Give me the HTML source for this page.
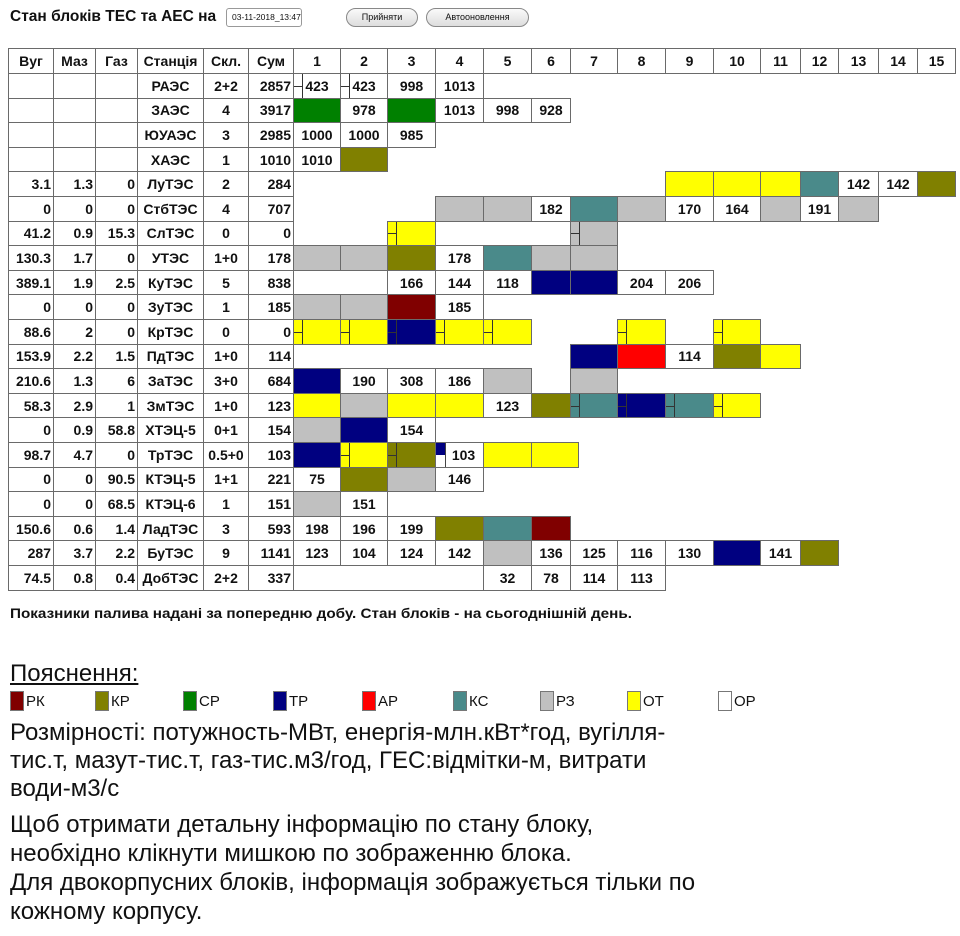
<!DOCTYPE html>
<html><head><meta charset="utf-8">
<style>
body{margin:0;width:960px;height:936px;background:#fff;position:relative;overflow:hidden;font-family:"Liberation Sans",Arial,sans-serif;color:#111}
.c{position:absolute;box-sizing:border-box;border:1px solid #6a6a6a;height:25.6px;display:flex;align-items:center;justify-content:center;font-weight:bold;font-size:14px;background:#fff}
.rt{justify-content:flex-end;padding-right:2px}
.l1{left:8px;width:46px}.l2{left:53px;width:43px}.l3{left:95px;width:43px}.l4{left:137px;width:67px}.l5{left:203px;width:46px}.l6{left:248px;width:46px}
.u1{left:293px;width:48px}.u2{left:340px;width:48px}.u3{left:387px;width:49px}.u4{left:435px;width:49px}.u5{left:483px;width:49px}.u6{left:531px;width:40px}.u7{left:570px;width:48px}.u8{left:617px;width:49px}.u9{left:665px;width:49px}.u10{left:713px;width:48px}.u11{left:760px;width:41px}.u12{left:800px;width:39px}.u13{left:838px;width:41px}.u14{left:878px;width:40px}.u15{left:917px;width:39px}
.h{top:48px;height:26px}
.r0{top:73px}.r1{top:97.6px}.r2{top:122.2px}.r3{top:146.8px}.r4{top:171.4px}.r5{top:196px}.r6{top:220.6px}.r7{top:245.2px}.r8{top:269.8px}.r9{top:294.4px}.r10{top:319px}.r11{top:343.6px}.r12{top:368.2px}.r13{top:392.8px}.r14{top:417.4px}.r15{top:442px}.r16{top:466.6px}.r17{top:491.2px}.r18{top:515.8px}.r19{top:540.4px}.r20{top:565px}
.RK{background:#800000}.KR{background:#808000}.SR{background:#008000}.TR{background:#000080}.AR{background:#ff0000}.KS{background:#4a8a8a}.RZ{background:#c0c0c0}.OT{background:#ffff00}
.s::before{content:"";position:absolute;left:8px;top:0;bottom:0;border-left:1.5px solid #333}
.s::after{content:"";position:absolute;left:0;width:8px;top:50%;border-top:1.5px solid #333}
.lg{position:absolute;top:690px;height:22px;font-size:15px;display:flex;align-items:center}
.lg b{display:inline-block;width:14px;height:20px;box-sizing:border-box;border:1px solid #777;margin-right:2px}
.p{position:absolute;left:10px;font-size:24px;white-space:nowrap;line-height:28px}
</style></head><body>
<div style="position:absolute;left:10px;top:8px;font-weight:bold;font-size:15.5px">Стан блоків ТЕС та АЕС на</div>
<div style="position:absolute;left:226px;top:8px;width:76px;height:19px;box-sizing:border-box;border:1px solid #999;border-radius:3px;font-size:8.5px;line-height:17px;padding-left:5px">03-11-2018_13:47</div>
<div style="position:absolute;left:346px;top:8px;width:72px;height:19px;box-sizing:border-box;border:1px solid #888;border-radius:10px;background:linear-gradient(#fafafa,#ddd);font-size:9px;text-align:center;line-height:17px">Прийняти</div>
<div style="position:absolute;left:426px;top:8px;width:103px;height:19px;box-sizing:border-box;border:1px solid #888;border-radius:10px;background:linear-gradient(#fafafa,#ddd);font-size:9px;text-align:center;line-height:17px">Автооновлення</div>

<div class="c h l1">Вуг</div><div class="c h l2">Маз</div><div class="c h l3">Газ</div><div class="c h l4">Станція</div><div class="c h l5">Скл.</div><div class="c h l6">Сум</div>
<div class="c h u1">1</div><div class="c h u2">2</div><div class="c h u3">3</div><div class="c h u4">4</div><div class="c h u5">5</div><div class="c h u6">6</div><div class="c h u7">7</div><div class="c h u8">8</div><div class="c h u9">9</div><div class="c h u10">10</div><div class="c h u11">11</div><div class="c h u12">12</div><div class="c h u13">13</div><div class="c h u14">14</div><div class="c h u15">15</div>

<div class="c r0 l1"></div><div class="c r0 l2"></div><div class="c r0 l3"></div><div class="c r0 l4">РАЭС</div><div class="c r0 l5">2+2</div><div class="c r0 l6 rt">2857</div>
<div class="c r0 u1 s">423</div><div class="c r0 u2 s">423</div><div class="c r0 u3">998</div><div class="c r0 u4">1013</div>
<div class="c r1 l1"></div><div class="c r1 l2"></div><div class="c r1 l3"></div><div class="c r1 l4">ЗАЭС</div><div class="c r1 l5">4</div><div class="c r1 l6 rt">3917</div>
<div class="c r1 u1 SR"></div><div class="c r1 u2">978</div><div class="c r1 u3 SR"></div><div class="c r1 u4">1013</div><div class="c r1 u5">998</div><div class="c r1 u6">928</div>
<div class="c r2 l1"></div><div class="c r2 l2"></div><div class="c r2 l3"></div><div class="c r2 l4">ЮУАЭС</div><div class="c r2 l5">3</div><div class="c r2 l6 rt">2985</div>
<div class="c r2 u1">1000</div><div class="c r2 u2">1000</div><div class="c r2 u3">985</div>
<div class="c r3 l1"></div><div class="c r3 l2"></div><div class="c r3 l3"></div><div class="c r3 l4">ХАЭС</div><div class="c r3 l5">1</div><div class="c r3 l6 rt">1010</div>
<div class="c r3 u1">1010</div><div class="c r3 u2 KR"></div>
<div class="c r4 l1 rt">3.1</div><div class="c r4 l2 rt">1.3</div><div class="c r4 l3 rt">0</div><div class="c r4 l4">ЛуТЭС</div><div class="c r4 l5">2</div><div class="c r4 l6 rt">284</div>
<div class="c r4 u9 OT"></div><div class="c r4 u10 OT"></div><div class="c r4 u11 OT"></div><div class="c r4 u12 KS"></div><div class="c r4 u13">142</div><div class="c r4 u14">142</div><div class="c r4 u15 KR"></div>
<div class="c r5 l1 rt">0</div><div class="c r5 l2 rt">0</div><div class="c r5 l3 rt">0</div><div class="c r5 l4">СтбТЭС</div><div class="c r5 l5">4</div><div class="c r5 l6 rt">707</div>
<div class="c r5 u4 RZ"></div><div class="c r5 u5 RZ"></div><div class="c r5 u6">182</div><div class="c r5 u7 KS"></div><div class="c r5 u8 RZ"></div><div class="c r5 u9">170</div><div class="c r5 u10">164</div><div class="c r5 u11 RZ"></div><div class="c r5 u12">191</div><div class="c r5 u13 RZ"></div>
<div class="c r6 l1 rt">41.2</div><div class="c r6 l2 rt">0.9</div><div class="c r6 l3 rt">15.3</div><div class="c r6 l4">СлТЭС</div><div class="c r6 l5">0</div><div class="c r6 l6 rt">0</div>
<div class="c r6 u3 OT s"></div><div class="c r6 u7 RZ s"></div>
<div class="c r7 l1 rt">130.3</div><div class="c r7 l2 rt">1.7</div><div class="c r7 l3 rt">0</div><div class="c r7 l4">УТЭС</div><div class="c r7 l5">1+0</div><div class="c r7 l6 rt">178</div>
<div class="c r7 u1 RZ"></div><div class="c r7 u2 RZ"></div><div class="c r7 u3 KR"></div><div class="c r7 u4">178</div><div class="c r7 u5 KS"></div><div class="c r7 u6 RZ"></div><div class="c r7 u7 RZ"></div>
<div class="c r8 l1 rt">389.1</div><div class="c r8 l2 rt">1.9</div><div class="c r8 l3 rt">2.5</div><div class="c r8 l4">КуТЭС</div><div class="c r8 l5">5</div><div class="c r8 l6 rt">838</div>
<div class="c r8" style="left:293px;width:95px"></div><div class="c r8 u3">166</div><div class="c r8 u4">144</div><div class="c r8 u5">118</div><div class="c r8 u6 TR"></div><div class="c r8 u7 TR"></div><div class="c r8 u8">204</div><div class="c r8 u9">206</div>
<div class="c r9 l1 rt">0</div><div class="c r9 l2 rt">0</div><div class="c r9 l3 rt">0</div><div class="c r9 l4">ЗуТЭС</div><div class="c r9 l5">1</div><div class="c r9 l6 rt">185</div>
<div class="c r9 u1 RZ"></div><div class="c r9 u2 RZ"></div><div class="c r9 u3 RK"></div><div class="c r9 u4">185</div>
<div class="c r10 l1 rt">88.6</div><div class="c r10 l2 rt">2</div><div class="c r10 l3 rt">0</div><div class="c r10 l4">КрТЭС</div><div class="c r10 l5">0</div><div class="c r10 l6 rt">0</div>
<div class="c r10 u1 OT s"></div><div class="c r10 u2 OT s"></div><div class="c r10 u3 TR s"></div><div class="c r10 u4 OT s"></div><div class="c r10 u5 OT s"></div><div class="c r10 u8 OT s"></div><div class="c r10 u10 OT s"></div>
<div class="c r11 l1 rt">153.9</div><div class="c r11 l2 rt">2.2</div><div class="c r11 l3 rt">1.5</div><div class="c r11 l4">ПдТЭС</div><div class="c r11 l5">1+0</div><div class="c r11 l6 rt">114</div>
<div class="c r11 u7 TR"></div><div class="c r11 u8 AR"></div><div class="c r11 u9">114</div><div class="c r11 u10 KR"></div><div class="c r11 u11 OT"></div>
<div class="c r12 l1 rt">210.6</div><div class="c r12 l2 rt">1.3</div><div class="c r12 l3 rt">6</div><div class="c r12 l4">ЗаТЭС</div><div class="c r12 l5">3+0</div><div class="c r12 l6 rt">684</div>
<div class="c r12 u1 TR"></div><div class="c r12 u2">190</div><div class="c r12 u3">308</div><div class="c r12 u4">186</div><div class="c r12 u5 RZ"></div><div class="c r12 u7 RZ"></div>
<div class="c r13 l1 rt">58.3</div><div class="c r13 l2 rt">2.9</div><div class="c r13 l3 rt">1</div><div class="c r13 l4">ЗмТЭС</div><div class="c r13 l5">1+0</div><div class="c r13 l6 rt">123</div>
<div class="c r13 u1 OT"></div><div class="c r13 u2 RZ"></div><div class="c r13 u3 OT"></div><div class="c r13 u4 OT"></div><div class="c r13 u5">123</div><div class="c r13 u6 KR"></div><div class="c r13 u7 KS s"></div><div class="c r13 u8 TR s"></div><div class="c r13 u9 KS s"></div><div class="c r13 u10 OT s"></div>
<div class="c r14 l1 rt">0</div><div class="c r14 l2 rt">0.9</div><div class="c r14 l3 rt">58.8</div><div class="c r14 l4">ХТЭЦ-5</div><div class="c r14 l5">0+1</div><div class="c r14 l6 rt">154</div>
<div class="c r14 u1 RZ"></div><div class="c r14 u2 TR"></div><div class="c r14 u3">154</div>
<div class="c r15 l1 rt">98.7</div><div class="c r15 l2 rt">4.7</div><div class="c r15 l3 rt">0</div><div class="c r15 l4">ТрТЭС</div><div class="c r15 l5">0.5+0</div><div class="c r15 l6 rt">103</div>
<div class="c r15 u1 TR"></div><div class="c r15 u2 OT s"></div><div class="c r15 u3 KR s"></div><div class="c r15 u4" style="padding-left:8px">103<span style="position:absolute;left:0;top:0;width:9px;height:12px;background:#000080"></span><span style="position:absolute;left:9px;top:0;bottom:0;border-left:1px solid #444"></span></div><div class="c r15 u5 OT"></div><div class="c r15 u6 OT" style="width:48px"></div>
<div class="c r16 l1 rt">0</div><div class="c r16 l2 rt">0</div><div class="c r16 l3 rt">90.5</div><div class="c r16 l4">КТЭЦ-5</div><div class="c r16 l5">1+1</div><div class="c r16 l6 rt">221</div>
<div class="c r16 u1">75</div><div class="c r16 u2 KR"></div><div class="c r16 u3 RZ"></div><div class="c r16 u4">146</div>
<div class="c r17 l1 rt">0</div><div class="c r17 l2 rt">0</div><div class="c r17 l3 rt">68.5</div><div class="c r17 l4">КТЭЦ-6</div><div class="c r17 l5">1</div><div class="c r17 l6 rt">151</div>
<div class="c r17 u1 RZ"></div><div class="c r17 u2">151</div>
<div class="c r18 l1 rt">150.6</div><div class="c r18 l2 rt">0.6</div><div class="c r18 l3 rt">1.4</div><div class="c r18 l4">ЛадТЭС</div><div class="c r18 l5">3</div><div class="c r18 l6 rt">593</div>
<div class="c r18 u1">198</div><div class="c r18 u2">196</div><div class="c r18 u3">199</div><div class="c r18 u4 KR"></div><div class="c r18 u5 KS"></div><div class="c r18 u6 RK"></div>
<div class="c r19 l1 rt">287</div><div class="c r19 l2 rt">3.7</div><div class="c r19 l3 rt">2.2</div><div class="c r19 l4">БуТЭС</div><div class="c r19 l5">9</div><div class="c r19 l6 rt">1141</div>
<div class="c r19 u1">123</div><div class="c r19 u2">104</div><div class="c r19 u3">124</div><div class="c r19 u4">142</div><div class="c r19 u5 RZ"></div><div class="c r19 u6">136</div><div class="c r19 u7">125</div><div class="c r19 u8">116</div><div class="c r19 u9">130</div><div class="c r19 u10 TR"></div><div class="c r19 u11">141</div><div class="c r19 u12 KR"></div>
<div class="c r20 l1 rt">74.5</div><div class="c r20 l2 rt">0.8</div><div class="c r20 l3 rt">0.4</div><div class="c r20 l4">ДобТЭС</div><div class="c r20 l5">2+2</div><div class="c r20 l6 rt">337</div>
<div class="c r20" style="left:293px;width:191px"></div><div class="c r20 u5">32</div><div class="c r20 u6">78</div><div class="c r20 u7">114</div><div class="c r20 u8">113</div>

<div style="position:absolute;left:10px;top:605px;font-weight:bold;font-size:14px;transform:scaleX(1.09);transform-origin:left;white-space:nowrap">Показники палива надані за попередню добу. Стан блоків - на сьогоднішній день.</div>
<div style="position:absolute;left:10px;top:660px;font-size:24px;text-decoration:underline">Пояснення:</div>
<div class="lg" style="left:10px"><b class="RK"></b>РК</div>
<div class="lg" style="left:95px"><b class="KR"></b>КР</div>
<div class="lg" style="left:183px"><b class="SR"></b>СР</div>
<div class="lg" style="left:273px"><b class="TR"></b>ТР</div>
<div class="lg" style="left:362px"><b class="AR"></b>АР</div>
<div class="lg" style="left:453px"><b class="KS"></b>КС</div>
<div class="lg" style="left:540px"><b class="RZ"></b>РЗ</div>
<div class="lg" style="left:627px"><b class="OT"></b>ОТ</div>
<div class="lg" style="left:718px"><b style="background:#fff"></b>ОР</div>
<div class="p" style="top:719px">Розмірності: потужность-МВт, енергія-млн.кВт*год, вугілля-</div>
<div class="p" style="top:747px">тис.т, мазут-тис.т, газ-тис.м3/год, ГЕС:відмітки-м, витрати</div>
<div class="p" style="top:775px">води-м3/с</div>
<div class="p" style="top:811px">Щоб отримати детальну інформацію по стану блоку,</div>
<div class="p" style="top:840px">необхідно клікнути мишкою по зображенню блока.</div>
<div class="p" style="top:869px">Для двокорпусних блоків, інформація зображується тільки по</div>
<div class="p" style="top:898px">кожному корпусу.</div>
</body></html>
